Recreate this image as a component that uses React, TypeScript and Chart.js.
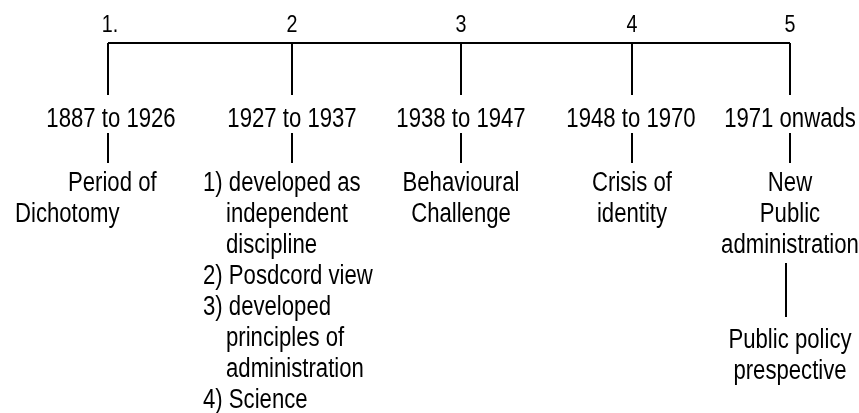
import React, { useEffect, useRef } from "react";
import { Chart, registerables } from "chart.js";

Chart.register(...registerables);

// ---- data ----
const stageNumbers = ["1.", "2", "3", "4", "5"];
const stagePositions = [108, 292, 461, 632, 790];
const periodLabels = ["1887 to 1926", "1927 to 1937", "1938 to 1947", "1948 to 1970", "1971 onwads"];
const stageDescriptions: string[][] = [
  ["Period of", "Dichotomy"],
  [
    "1) developed as",
    "independent",
    "discipline",
    "2) Posdcord view",
    "3) developed",
    "principles of",
    "administration",
    "4) Science",
  ],
  ["Behavioural", "Challenge"],
  ["Crisis of", "identity"],
  ["New", "Public", "administration"],
];
const stage5Extra = ["Public policy", "prespective"];

// ---- layout (positions in the chart's own units) ----
const AXIS_Y = 43;
const TICK_BOTTOM = 95;
const NUM_BASELINE = 32;
const PERIOD_BASELINE = 127;
const CONNECT_TOP = 133;
const CONNECT_BOTTOM = 163;
const DESC_BASELINE = 191;
const LINE_H = 31;
const EXTRA_CONNECT_TOP = 263;
const EXTRA_CONNECT_BOTTOM = 317;
const EXTRA_BASELINE = 348;
const EXTRA_X_OFFSET = -4;
const NARROW = 0.82;

// per-stage line alignment: null => centred on stage; numbers => left offsets per line
const descLeftOffsets: (number[] | null)[] = [
  [-40, -93],
  [-89, -66, -66, -89, -89, -66, -66, -89],
  null,
  null,
  null,
];
const numberOffsets = [2, 0, 0, 0, 0];
const periodOffsets = [3, 0, 0, -1, 0];

const FONT_FAMILY = '"Liberation Sans", Arial, sans-serif';

export default function App() {
  const ref = useRef<HTMLCanvasElement>(null);

  useEffect(() => {
    document.body.style.margin = "0";
    const canvas = ref.current;
    if (!canvas) return;

    const seg = (x1: number, y1: number, x2: number, y2: number) => ({
      data: [
        { x: x1, y: y1 },
        { x: x2, y: y2 },
      ],
      borderColor: "#000",
      backgroundColor: "#000",
      borderWidth: 2,
      pointRadius: 0,
      showLine: true,
      fill: false,
    });

    const datasets: any[] = [];
    datasets.push(seg(stagePositions[0], AXIS_Y, stagePositions[stagePositions.length - 1], AXIS_Y));
    stagePositions.forEach((x) => {
      datasets.push(seg(x, AXIS_Y, x, TICK_BOTTOM));
      datasets.push(seg(x, CONNECT_TOP, x, CONNECT_BOTTOM));
    });
    const x5 = stagePositions[4] + EXTRA_X_OFFSET;
    datasets.push(seg(x5, EXTRA_CONNECT_TOP, x5, EXTRA_CONNECT_BOTTOM));

    const textPlugin = {
      id: "timelineText",
      afterDatasetsDraw(chart: any) {
        const { ctx, scales } = chart;
        const sx = scales.x;
        const sy = scales.y;

        const draw = (t: string, xv: number, yv: number, align: "left" | "center") => {
          ctx.save();
          ctx.translate(sx.getPixelForValue(xv), sy.getPixelForValue(yv));
          ctx.scale(NARROW, 1);
          ctx.textAlign = align;
          ctx.fillText(t, 0, 0);
          ctx.restore();
        };

        ctx.save();
        ctx.fillStyle = "#000";
        ctx.textBaseline = "alphabetic";

        // top numbers
        ctx.font = `24px ${FONT_FAMILY}`;
        stageNumbers.forEach((t, i) => draw(t, stagePositions[i] + numberOffsets[i], NUM_BASELINE, "center"));

        ctx.font = `27px ${FONT_FAMILY}`;
        // period labels
        periodLabels.forEach((t, i) => draw(t, stagePositions[i] + periodOffsets[i], PERIOD_BASELINE, "center"));

        // descriptions
        stageDescriptions.forEach((lines, i) => {
          const offs = descLeftOffsets[i];
          lines.forEach((t, j) => {
            const yv = DESC_BASELINE + j * LINE_H;
            if (offs) draw(t, stagePositions[i] + offs[j], yv, "left");
            else draw(t, stagePositions[i], yv, "center");
          });
        });

        // extra stage 5 text
        stage5Extra.forEach((t, j) => draw(t, stagePositions[4], EXTRA_BASELINE + j * LINE_H, "center"));
        ctx.restore();
      },
    };

    const chart = new Chart(canvas, {
      type: "scatter",
      data: { datasets },
      options: {
        animation: false,
        responsive: false,
        maintainAspectRatio: false,
        events: [],
        layout: { padding: 0 },
        plugins: { legend: { display: false }, tooltip: { enabled: false } },
        scales: {
          x: { type: "linear", min: 0, max: 859, display: false },
          y: { type: "linear", min: 0, max: 413, reverse: true, display: false },
        },
      },
      plugins: [textPlugin],
    } as any);

    return () => chart.destroy();
  }, []);

  return (
    <div style={{ position: "absolute", left: 0, top: 0, width: 859, height: 413, background: "#fff" }}>
      <canvas ref={ref} width={859} height={413} style={{ display: "block" }} />
    </div>
  );
}
